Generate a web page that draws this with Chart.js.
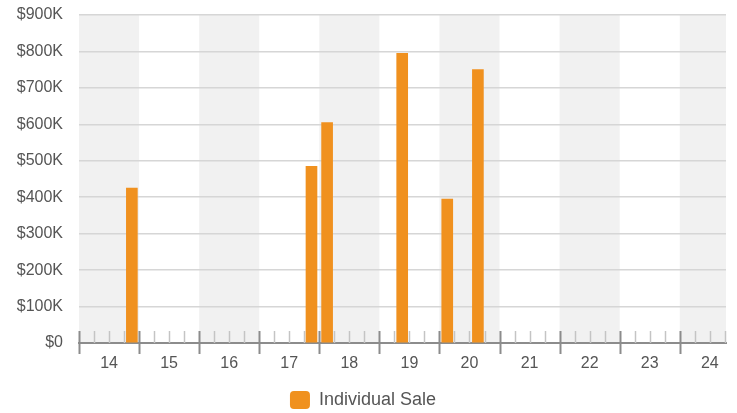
<!DOCTYPE html>
<html>
<head>
<meta charset="utf-8">
<script src="https://cdn.jsdelivr.net/npm/chart.js@4/dist/chart.umd.min.js"></script>
<style>
  html, body { margin: 0; padding: 0; background: #fff; }
  #wrap { width: 737px; height: 413px; }
</style>
</head>
<body>
<div id="wrap"><canvas id="chart-sales"></canvas></div>
<script>
// day labels on the x axis
var days = [14, 15, 16, 17, 18, 19, 20, 21, 22, 23, 24];
// sale positions (day) and amounts ($)
var saleDays = [14.38, 17.37, 17.63, 18.88, 19.63, 20.14];
var saleAmounts = [425000, 485000, 605000, 795000, 395000, 750000];
var yTicks = [0, 100000, 200000, 300000, 400000, 500000, 600000, 700000, 800000, 900000];

var points = saleDays.map(function(d, i) {
    return { x: d, y: saleAmounts[i] };
});

// alternating grey day bands, behind everything
var bandsPlugin = {
    id: 'bands',
    beforeDraw: function(chart) {
        var ctx = chart.ctx, area = chart.chartArea, xs = chart.scales.x;
        ctx.save();
        ctx.fillStyle = '#f1f1f1';
        days.forEach(function(d, i) {
            if (i % 2 != 0) return;
            var l = Math.max(xs.getPixelForValue(d - 0.5), area.left);
            var r = Math.min(xs.getPixelForValue(d + 0.5), area.right);
            ctx.fillRect(l, area.top, r - l, area.bottom - area.top);
        });
        ctx.restore();
    }
};

// major ticks between days, minor ticks every quarter day
var ticksPlugin = {
    id: 'dayTicks',
    beforeDatasetsDraw: function(chart) {
        var ctx = chart.ctx, area = chart.chartArea, xs = chart.scales.x;
        var y0 = area.bottom;
        ctx.save();
        for (var v = xs.min; v <= xs.max + 0.001; v += 0.25) {
            var px = Math.round(xs.getPixelForValue(v)) + 0.5;
            var major = Math.abs((v - 0.5) % 1) < 0.001;
            ctx.beginPath();
            if (major) {
                ctx.strokeStyle = '#8c8c8c';
                ctx.lineWidth = 2;
                ctx.moveTo(px, y0 - 12);
                ctx.lineTo(px, y0 + 11);
            } else {
                ctx.strokeStyle = '#c4c4c4';
                ctx.lineWidth = 1.5;
                ctx.moveTo(px, y0 - 12);
                ctx.lineTo(px, y0);
            }
            ctx.stroke();
        }
        ctx.restore();
    }
};

var ctx = document.getElementById('chart-sales').getContext('2d');

new Chart(ctx, {
    type: 'bar',
    data: {
        datasets: [{
            label: 'Individual Sale',
            data: points,
            backgroundColor: '#f0911f',
            borderWidth: 0,
            barThickness: 11
        }]
    },
    options: {
        responsive: true,
        maintainAspectRatio: false,
        animation: false,
        layout: {
            padding: { top: 15, right: 11, left: 0, bottom: -6 }
        },
        plugins: {
            legend: {
                display: true,
                position: 'bottom',
                labels: {
                    boxWidth: 20,
                    boxHeight: 18,
                    useBorderRadius: true,
                    borderRadius: 4,
                    padding: 0,
                    color: '#555',
                    font: { size: 18, family: 'Liberation Sans' }
                }
            },
            tooltip: { enabled: false }
        },
        scales: {
            x: {
                type: 'linear',
                min: 13.5,
                max: 24.27,
                offset: false,
                afterBuildTicks: function(scale) {
                    scale.ticks = days.map(function(d) { return { value: d }; });
                },
                afterFit: function(scale) { scale.height = 48; },
                grid: { display: false, drawTicks: false },
                border: { display: true, color: '#8c8c8c', width: 2 },
                ticks: {
                    padding: 11,
                    color: '#555',
                    autoSkip: false,
                    maxRotation: 0,
                    font: { size: 16, family: 'Liberation Sans' },
                    callback: function(v) { return v; }
                }
            },
            y: {
                min: 0,
                max: 900000,
                afterBuildTicks: function(scale) {
                    scale.ticks = yTicks.map(function(v) { return { value: v }; });
                },
                afterFit: function(scale) {
                    scale.width = 79;
                    scale.paddingTop = 0;
                    scale.paddingBottom = 0;
                },
                grid: { color: '#d6d6d6', lineWidth: 1.5, drawTicks: false },
                border: { display: false },
                ticks: {
                    padding: 16,
                    color: '#555',
                    font: { size: 16, family: 'Liberation Sans' },
                    callback: function(v) {
                        return v == 0 ? '$0' : '$' + (v / 1000) + 'K';
                    }
                }
            }
        }
    },
    plugins: [bandsPlugin, ticksPlugin]
});
</script>
</body>
</html>
